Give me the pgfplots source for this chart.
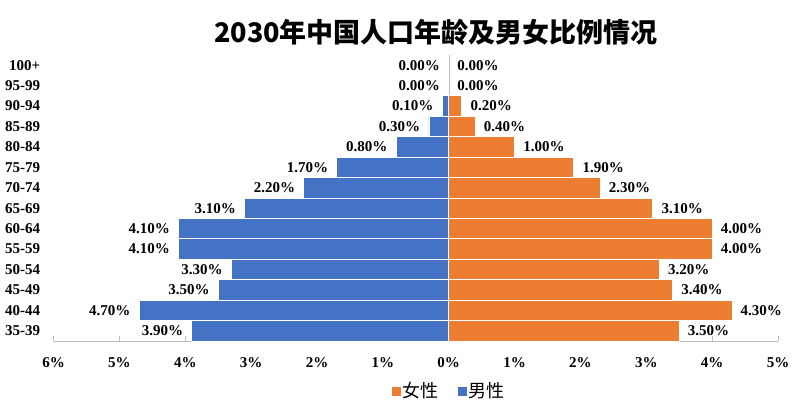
\documentclass[border=0pt]{standalone}
\usepackage{pgfplots}
\pgfplotsset{compat=1.18}
\usepackage{pgfplotstable}
\usepackage{fontspec}
\setmainfont{Liberation Serif}
\newfontfamily\cjk{Noto Sans CJK SC}
\definecolor{male}{HTML}{4472C4}
\definecolor{female}{HTML}{ED7D31}

\pgfplotstableread{
y m f
0 3.9 3.5
1 4.7 4.3
2 3.5 3.4
3 3.3 3.2
4 4.1 4.0
5 4.1 4.0
6 3.1 3.1
7 2.2 2.3
8 1.7 1.9
9 0.8 1.0
10 0.3 0.4
11 0.1 0.2
12 0.0 0.0
13 0.0 0.0
}\data

\begin{document}
\begin{tikzpicture}
\path (-53.6pt,-77pt) rectangle (746.4pt,341pt);
\node[font=\cjk\bfseries\fontsize{27}{32}\selectfont] at (382.4pt,309pt) {2030年中国人口年龄及男女比例情况};
\begin{axis}[
  at={(0pt,0pt)}, anchor=south west,
  scale only axis, width=724.4pt, height=286pt,
  xmin=-6, xmax=5, ymin=-0.5, ymax=13.5,
  xbar, bar width=1,
  axis lines*=left,
  y axis line style={draw=none},
  x axis line style={draw=gray!55},
  xtick={-6,...,5},
  xticklabels={6\%,5\%,4\%,3\%,2\%,1\%,0\%,1\%,2\%,3\%,4\%,5\%},
  xtick style={draw=gray!55},
  tick align=inside, major tick length=5pt,
  xticklabel style={font=\bfseries\fontsize{15}{18}\selectfont, yshift=-13pt},
  ytick={0,...,13},
  yticklabels={35-39,40-44,45-49,50-54,55-59,60-64,65-69,70-74,75-79,80-84,85-89,90-94,95-99,100+},
  ytick style={draw=none},
  yticklabel style={font=\bfseries\fontsize{15}{18}\selectfont, xshift=-10pt},
  extra x ticks={0}, extra x tick labels={},
  extra x tick style={grid=major, major grid style={draw=gray!50}, major tick length=0pt},
  legend style={at={(0.546,-0.175)}, anchor=center, draw=none, fill=none,
    font=\cjk\fontsize{18}{21}\selectfont, legend columns=2,
    /tikz/every even column/.append style={column sep=17pt}},
  reverse legend,
  clip=false,
  /pgf/number format/assume math mode=true,
]
\addplot[fill=male, draw=white, line width=0.8pt, bar shift=0pt,
  legend image code/.code={\fill[male] (0pt,-4.5pt) rectangle (8pt,4pt);},
  point meta=explicit,
  nodes near coords={\pgfmathprintnumber[fixed,fixed zerofill,precision=2,assume math mode=true]{\pgfplotspointmeta}\%},
  nodes near coords style={anchor=east, xshift=-5pt, text=black, font=\bfseries\fontsize{15}{18}\selectfont}]
  table[x expr=-\thisrow{m}, y=y, meta=m] {\data};
\addlegendentry{男性}
\addplot[fill=female, draw=white, line width=0.8pt, bar shift=0pt,
  legend image code/.code={\fill[female] (0pt,-4.5pt) rectangle (8pt,4pt);},
  point meta=explicit,
  nodes near coords={\pgfmathprintnumber[fixed,fixed zerofill,precision=2,assume math mode=true]{\pgfplotspointmeta}\%},
  nodes near coords style={anchor=west, xshift=5pt, text=black, font=\bfseries\fontsize{15}{18}\selectfont}]
  table[x=f, y=y, meta=f] {\data};
\addlegendentry{女性}
\end{axis}
\end{tikzpicture}
\end{document}
